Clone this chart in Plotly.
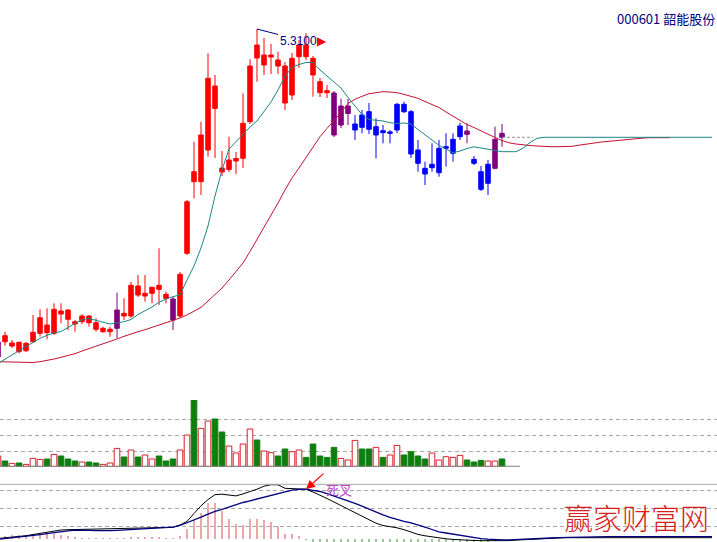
import plotly.graph_objects as go

# ---------------- data ----------------
open_ = [2.03, 2.243, 2.14, 2.177, 2.093, 2.183, 2.267, 2.35, 2.267, 2.49,
         2.50, 2.383, 2.383, 2.44, 2.373, 2.283, 2.283, 2.317, 2.467, 2.44,
         2.74, 2.64, 2.667, 2.747, 2.657, 2.61, 2.44, 3.067, 3.883, 3.783,
         4.10, 4.74, 3.92, 3.905, 3.99, 4.017, 4.383, 5.15, 4.95, 5.03,
         5.00, 4.94, 4.65, 5.033, 5.15, 5.017, 4.783, 4.693, 4.67, 4.35,
         4.465, 4.30, 4.45, 4.483, 4.25, 4.293, 4.267, 4.30, 4.557, 4.483,
         4.10, 3.917, 3.923, 3.873, 4.117, 4.067, 4.233, 4.29, 4.007, 3.883,
         3.767, 3.917, 4.267]
high = [2.20, 2.283, 2.20, 2.183, 2.18, 2.45, 2.507, 2.517, 2.567, 2.567,
        2.507, 2.40, 2.457, 2.45, 2.417, 2.333, 2.333, 2.673, 2.617, 2.78,
        2.85, 2.85, 2.733, 3.117, 2.683, 2.63, 2.88, 3.60, 4.183, 4.383,
        5.067, 4.85, 4.09, 4.233, 4.08, 4.667, 5.007, 5.31, 5.22, 5.16,
        5.083, 4.98, 5.07, 5.20, 5.267, 5.04, 4.82, 4.75, 4.69, 4.615,
        4.61, 4.45, 4.50, 4.57, 4.417, 4.35, 4.30, 4.57, 4.583, 4.50,
        4.20, 3.983, 4.167, 4.20, 4.267, 4.267, 4.373, 4.367, 4.04, 3.94,
        4.00, 4.333, 4.36]
low = [2.01, 2.143, 2.12, 2.067, 2.08, 2.17, 2.233, 2.207, 2.25, 2.367,
       2.30, 2.283, 2.36, 2.333, 2.283, 2.273, 2.233, 2.217, 2.40, 2.42,
       2.63, 2.583, 2.567, 2.55, 2.567, 2.30, 2.42, 3.05, 3.617, 3.65,
       4.033, 4.02, 3.84, 3.88, 3.86, 3.92, 4.36, 4.783, 4.85, 4.86,
       4.86, 4.50, 4.60, 4.92, 5.00, 4.633, 4.63, 4.62, 4.23, 4.32,
       4.35, 4.20, 4.267, 4.26, 4.017, 4.167, 4.167, 4.27, 4.47, 4.02,
       3.883, 3.75, 3.883, 3.833, 3.933, 3.983, 4.20, 4.167, 3.95, 3.69,
       3.65, 3.907, 4.133]
close = [2.18, 2.183, 2.17, 2.083, 2.167, 2.277, 2.423, 2.273, 2.507, 2.46,
         2.407, 2.36, 2.44, 2.373, 2.307, 2.317, 2.307, 2.50, 2.44, 2.747,
         2.65, 2.667, 2.727, 2.707, 2.617, 2.40, 2.857, 3.583, 3.783, 4.25,
         4.817, 4.515, 3.88, 4.00, 4.015, 4.367, 4.94, 5.02, 5.05, 5.05,
         4.94, 4.57, 5.017, 5.15, 5.033, 4.85, 4.673, 4.673, 4.25, 4.54,
         4.54, 4.36, 4.327, 4.307, 4.333, 4.273, 4.28, 4.557, 4.483, 4.06,
         3.967, 3.86, 3.957, 4.117, 4.133, 4.207, 4.34, 4.257, 3.967, 3.707,
         3.957, 4.207, 4.227]
# candle colour phase: R = red, B = blue, P = purple
phase = "PRRRRRRRRRRRRRRRRPRRRRRRRPRRRRRRRRRRRRRRRRRRRRRRPPPBBBBBBBBBBBBBBBBPBBBPP"

volume = [107, 57, 33, 37, 23, 83, 73, 77, 123, 107,
          77, 57, 47, 47, 37, 23, 37, 183, 97, 167,
          97, 117, 77, 107, 57, 77, 167, 317, 667, 383,
          457, 477, 347, 207, 137, 227, 377, 267, 157, 140,
          107, 177, 150, 167, 93, 227, 107, 93, 193, 83,
          67, 263, 177, 177, 193, 93, 117, 213, 117, 150,
          107, 77, 137, 67, 100, 93, 113, 67, 47, 63,
          57, 57, 77]

ma_short = [1.965, 2.005, 2.045, 2.093, 2.135, 2.175, 2.217, 2.247, 2.27, 2.285,
            2.323, 2.367, 2.403, 2.415, 2.397, 2.375, 2.36, 2.37, 2.383, 2.405,
            2.455, 2.492, 2.53, 2.577, 2.61, 2.634, 2.65, 2.80, 2.94, 3.12,
            3.34, 3.64, 3.90, 4.11, 4.185, 4.25, 4.33, 4.39, 4.48, 4.58,
            4.70, 4.84, 4.925, 4.955, 4.975, 4.975, 4.90, 4.84, 4.78, 4.72,
            4.625, 4.535, 4.455, 4.405, 4.40, 4.39, 4.373, 4.365, 4.37, 4.36,
            4.305, 4.25, 4.193, 4.147, 4.108, 4.073, 4.09, 4.115, 4.132, 4.12,
            4.107, 4.09, 4.083, 4.083, 4.083, 4.117, 4.175, 4.217, 4.227, 4.227,
            4.227, 4.227, 4.227, 4.227, 4.227, 4.227, 4.227, 4.227, 4.227, 4.227,
            4.227, 4.227, 4.227, 4.227, 4.227, 4.227, 4.227, 4.227, 4.227, 4.227,
            4.227, 4.227, 4.227]
ma_long = [1.983, 1.98, 1.977, 1.975, 1.974, 1.975, 1.983, 1.995, 2.01, 2.027,
           2.045, 2.063, 2.09, 2.113, 2.137, 2.16, 2.183, 2.21, 2.237, 2.263,
           2.283, 2.303, 2.325, 2.347, 2.37, 2.393, 2.42, 2.45, 2.487, 2.526,
           2.59, 2.654, 2.72, 2.80, 2.88, 2.97, 3.085, 3.205, 3.325, 3.445,
           3.57, 3.70, 3.82, 3.92, 4.025, 4.13, 4.233, 4.316, 4.395, 4.475,
           4.566, 4.607, 4.637, 4.663, 4.673, 4.683, 4.68, 4.673, 4.656, 4.64,
           4.617, 4.585, 4.555, 4.525, 4.48, 4.44, 4.395, 4.355, 4.325, 4.29,
           4.255, 4.225, 4.195, 4.172, 4.16, 4.15, 4.145, 4.14, 4.135, 4.133,
           4.133, 4.133, 4.137, 4.148, 4.16, 4.17, 4.178, 4.185, 4.193, 4.20,
           4.206, 4.212, 4.218, 4.223, 4.223, 4.223, 4.223]

dif = [0.002, 0.0044, 0.0068, 0.0088, 0.0132, 0.018, 0.0228, 0.0272, 0.032, 0.036,
       0.0372, 0.038, 0.0388, 0.0388, 0.0388, 0.0392, 0.040, 0.0408, 0.0416, 0.0428,
       0.0436, 0.0448, 0.0456, 0.0468, 0.0468, 0.0468, 0.056, 0.0704, 0.102, 0.1328,
       0.1576, 0.1772, 0.1792, 0.1756, 0.1724, 0.1804, 0.1892, 0.1992, 0.2112, 0.2172,
       0.2168, 0.2028, 0.2016, 0.200, 0.1988, 0.188, 0.176, 0.162, 0.148, 0.134,
       0.120, 0.104, 0.0892, 0.076, 0.0632, 0.054, 0.0496, 0.0448, 0.0372, 0.028,
       0.0184, 0.0128, 0.008, 0.0032, 0.0008, -0.0016, -0.004, -0.0048, -0.006, -0.0068,
       -0.0072, -0.0076, -0.008, -0.0064, -0.0044, -0.0028, -0.0012, 0.0004, 0.002, 0.0032,
       0.004, 0.0052, 0.0052, 0.0052, 0.0052, 0.0052, 0.0052, 0.0052, 0.0052, 0.0052,
       0.0052, 0.0052, 0.0052, 0.0052, 0.0052, 0.0052, 0.0052, 0.0052, 0.0052, 0.0052,
       0.0052, 0.0052, 0.0052]
dea = [-0.0016, 0.0012, 0.0048, 0.008, 0.0112, 0.0144, 0.0176, 0.0212, 0.0256, 0.0292,
       0.0328, 0.0352, 0.036, 0.0348, 0.0332, 0.0324, 0.0332, 0.0348, 0.0364, 0.038,
       0.0396, 0.0416, 0.0432, 0.0448, 0.0464, 0.0476, 0.054, 0.0644, 0.076, 0.0872,
       0.0992, 0.1108, 0.1188, 0.128, 0.1376, 0.146, 0.1528, 0.160, 0.1668, 0.1748,
       0.1832, 0.1904, 0.1952, 0.1984, 0.1996, 0.1948, 0.190, 0.1812, 0.172, 0.1612,
       0.152, 0.1424, 0.1312, 0.1192, 0.108, 0.0968, 0.0868, 0.078, 0.0704, 0.0648,
       0.0572, 0.0472, 0.038, 0.0288, 0.024, 0.0196, 0.0144, 0.0096, 0.0048, 0.0016,
       -0.0008, -0.0032, -0.004, -0.0036, -0.0028, -0.0016, 0.0, 0.0016, 0.0028, 0.004,
       0.0056, 0.0064, 0.0076, 0.0084, 0.0088, 0.0092, 0.0092, 0.0092, 0.0092, 0.0092,
       0.0092, 0.0092, 0.0092, 0.0092, 0.0092, 0.0092, 0.0092, 0.0092, 0.0092, 0.0092,
       0.0092, 0.0092, 0.0092]
macd_hist = [0.012, 0.012, 0.016, 0.016, 0.016, 0.016, 0.02, 0.02, 0.02, 0.016,
             0.012, 0.008, 0.004, 0.004, 0.004, 0.004, 0.004, 0.004, 0.004, 0.008,
             0.008, 0.008, 0.008, 0.008, 0.004, 0.004, 0.012, 0.04, 0.076, 0.104,
             0.144, 0.144, 0.112, 0.08, 0.06, 0.056, 0.08, 0.08, 0.076, 0.068,
             0.052, 0.02, 0.02, 0.012, -0.004, -0.016, -0.028, -0.04, -0.048, -0.056,
             -0.064, -0.076, -0.084, -0.088, -0.088, -0.088, -0.084, -0.076, -0.068, -0.072,
             -0.076, -0.068, -0.06, -0.056, -0.048, -0.04, -0.036, -0.028, -0.02, -0.016,
             -0.012, -0.008, -0.008]

stock_title = "000601 韶能股份"
signal_text = "死叉"
watermark = "赢家财富网"

# ---------------- figure ----------------
W, H = 717, 542
n = len(close)
idx = list(range(n))

fig = go.Figure()

phase_colors = {"R": "#ff0000", "B": "#0000ff", "P": "#800080"}
for key, col in phase_colors.items():
    sel = [i for i in idx if phase[i] == key]
    fig.add_trace(go.Candlestick(
        x=sel,
        open=[open_[i] for i in sel], high=[high[i] for i in sel],
        low=[low[i] for i in sel], close=[close[i] for i in sel],
        increasing=dict(line=dict(color=col, width=1), fillcolor=col),
        decreasing=dict(line=dict(color=col, width=1), fillcolor=col),
        whiskerwidth=0, hoverinfo="skip", showlegend=False,
        xaxis="x", yaxis="y"))

fig.add_trace(go.Scatter(x=list(range(len(ma_long))), y=ma_long, mode="lines",
                         line=dict(color="#c41230", width=1), hoverinfo="skip",
                         xaxis="x", yaxis="y"))
fig.add_trace(go.Scatter(x=list(range(len(ma_short))), y=ma_short, mode="lines",
                         line=dict(color="#1b8585", width=1), hoverinfo="skip",
                         xaxis="x", yaxis="y"))
# last close reference line
fig.add_trace(go.Scatter(x=[n - 1, n + 3.4], y=[close[-1], close[-1]], mode="lines",
                         line=dict(color="#909090", width=1, dash="3px,2px"),
                         hoverinfo="skip", xaxis="x", yaxis="y"))

# volume
up = [c >= o for o, c in zip(open_, close)]
fig.add_trace(go.Bar(
    x=idx, y=volume, width=0.8,
    marker=dict(color=["#ffffff" if u else "#0e7f0e" for u in up],
                line=dict(color=["#d8202a" if u else "#0e7f0e" for u in up], width=1)),
    hoverinfo="skip", xaxis="x", yaxis="y2"))

# MACD
fig.add_trace(go.Bar(
    x=idx, y=macd_hist, width=0.12,
    marker=dict(color=["#d23030" if v > 0 else "#0e7f0e" for v in macd_hist],
                line=dict(width=0)),
    hoverinfo="skip", xaxis="x", yaxis="y3"))
fig.add_trace(go.Scatter(x=list(range(len(dif))), y=dif, mode="lines",
                         line=dict(color="#000000", width=1), hoverinfo="skip",
                         xaxis="x", yaxis="y3"))
fig.add_trace(go.Scatter(x=list(range(len(dea))), y=dea, mode="lines",
                         line=dict(color="#000080", width=1.3), hoverinfo="skip",
                         xaxis="x", yaxis="y3"))

grid_style = dict(showticklabels=False, ticks="", showline=False, zeroline=False,
                  showgrid=True, gridcolor="#a8a8a8", gridwidth=1, griddash="4px,3px")

fig.update_layout(
    width=W, height=H, margin=dict(l=0, r=0, t=0, b=0),
    paper_bgcolor="white", plot_bgcolor="white",
    showlegend=False, hovermode=False, boxgap=0.08,
    xaxis=dict(range=[2 / 7, 2 / 7 + W / 7], visible=False,
               rangeslider=dict(visible=False), anchor="y3"),
    yaxis=dict(domain=[1 - 372 / H, 1], range=[1.88, 5.60], visible=False),
    yaxis2=dict(domain=[1 - 466.7 / H, 1 - 400 / H], range=[0, 667],
                tickvals=[157, 317, 474, 667], **grid_style),
    yaxis3=dict(domain=[0, 1 - 480 / H], range=[-0.012, 0.236],
                tickvals=[0.052, 0.1228, 0.196], **grid_style),
    shapes=[
        dict(type="line", xref="paper", yref="y2", x0=0, x1=520 / W, y0=0, y1=0,
             line=dict(color="#808080", width=2)),
        dict(type="line", xref="paper", yref="paper", x0=0, x1=1,
             y0=1 - 484.3 / H, y1=1 - 484.3 / H, line=dict(color="#a8a8a8", width=1)),
    ],
)

imax = max(idx, key=lambda i: high[i])
fig.add_annotation(
    x=imax, y=high[imax], xref="x", yref="y",
    text=f'{high[imax]:.4f}<span style="color:#ff0000">▶</span>',
    font=dict(family="Liberation Sans, Arial", size=12, color="#000080"),
    showarrow=True, arrowhead=0, arrowwidth=1, arrowcolor="#000080",
    ax=46, ay=12, standoff=0)

icross = 44
fig.add_annotation(
    x=icross, y=dif[icross], xref="x", yref="y3", text="",
    showarrow=True, arrowhead=2, arrowsize=1.5, arrowwidth=1.2,
    arrowcolor="#ff0000", ax=19, ay=-17, standoff=0)
fig.add_annotation(
    x=icross, y=dif[icross], xref="x", yref="y3", text=signal_text,
    xshift=33, showarrow=False,
    font=dict(family="Noto Sans CJK SC", size=13, color="#c040c8"))

fig.add_annotation(
    x=1, y=1 - 19 / H, xref="paper", yref="paper", xanchor="right", yanchor="middle",
    text=stock_title, showarrow=False,
    font=dict(family="Noto Sans CJK SC", size=13, color="#000080"))

fig.add_annotation(
    x=636 / W, y=1 - 517 / H, xref="paper", yref="paper",
    xanchor="center", yanchor="middle", text=watermark, showarrow=False,
    font=dict(family="Noto Sans CJK SC", size=29, color="#d81e1e", weight=300))

fig.write_html("out.html",
               config={"displayModeBar": False, "staticPlot": True},
               post_script="document.body.style.margin='0px';"
                           "document.body.style.overflow='hidden';")
